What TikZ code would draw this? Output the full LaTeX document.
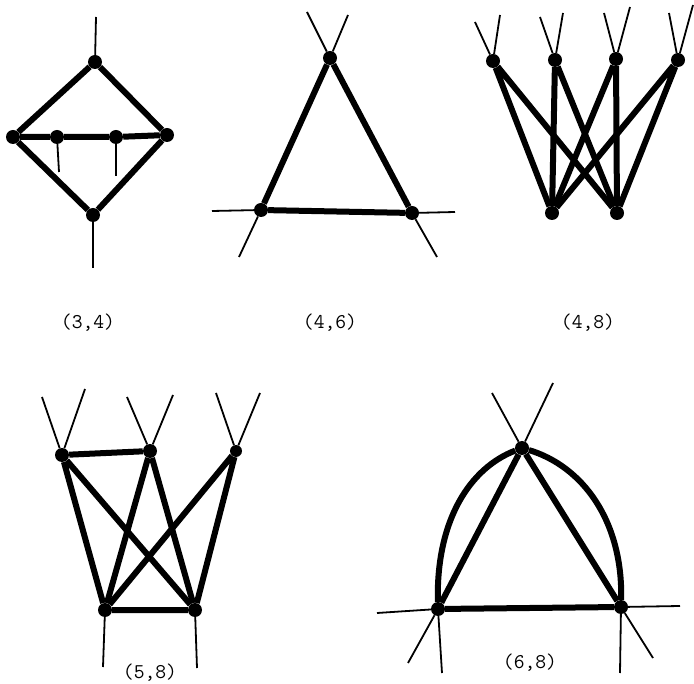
\documentclass[tikz,border=0pt]{standalone}
\usetikzlibrary{calc}
\tikzset{
  vtx/.style={circle,fill=black,inner sep=0pt,minimum size=14pt},
  bond/.style={line width=6pt},
  leg/.style={line width=1.8pt},
  lbl/.style={font=\fontsize{21}{24}\selectfont\ttfamily}
}

\begin{document}
\begin{tikzpicture}[x=1pt,y=-1pt]
  \useasboundingbox (0,0) rectangle (694,684);
  % (3,4)
  \node[vtx] (a1) at (95,62) {};
  \node[vtx] (a2) at (13,137) {};
  \node[vtx] (a3) at (167,135) {};
  \node[vtx] (a4) at (93,215) {};
  \node[vtx] (a5) at (57,137) {};
  \node[vtx] (a6) at (116,137) {};
  \draw[bond] (a1) -- (a2) (a1) -- (a3) (a2) -- (a4) (a3) -- (a4);
  \draw[bond] (a2) -- (a5) -- (a6) -- (a3);
  \node[lbl] (l34) at (88,323) {(3,4)};
  % (4,6)
  \node[vtx] (b1) at (330,58) {};
  \node[vtx] (b2) at (261,210) {};
  \node[vtx] (b3) at (412,213) {};
  \draw[bond] (b1) -- (b2) -- (b3) -- (b1);
  \node[lbl] (l46) at (330,323) {(4,6)};
  % (4,8)
  \node[vtx] (c1) at (493,61) {};
  \node[vtx] (c2) at (555,60) {};
  \node[vtx] (c3) at (616,59) {};
  \node[vtx] (c4) at (678,60) {};
  \node[vtx] (d1) at (552,213) {};
  \node[vtx] (d2) at (617,213) {};
  \foreach \t in {c1,c2,c3,c4}
    \draw[bond] (\t) -- (d1) (\t) -- (d2);
  \node[lbl] (l48) at (588,323) {(4,8)};
  % (5,8)
  \node[vtx] (e1) at (62,455) {};
  \node[vtx] (e2) at (150,451) {};
  \node[vtx,minimum size=12pt] (e3) at (236,451) {};
  \node[vtx] (f1) at (105,610) {};
  \node[vtx] (f2) at (195,610) {};
  \draw[bond] (e1) -- (e2) (f1) -- (f2);
  \foreach \t in {e1,e2,e3}
    \draw[bond] (\t) -- (f1) (\t) -- (f2);
  \node[lbl] (l58) at (150,673) {(5,8)};
  % (6,8)
  \node[vtx] (g1) at (522,448) {};
  \node[vtx] (g2) at (438,609) {};
  \node[vtx] (g3) at (621,607) {};
  \draw[bond] (g1) -- (g2) -- (g3) -- (g1);
  \draw[bond] (g2) .. controls (436,520) and (470,468) .. (g1);
  \draw[bond] (g3) .. controls (623,520) and (582,466) .. (g1);
  \node[lbl] (l68) at (530,663) {(6,8)};
  % external legs
  \foreach \v/\e/\x/\y in {a1/u/96/17, a4/d/93/268, a5/d/59/172, a6/d/116/176,
      b1/l/307/12, b1/r/348/15, b2/l/212/211, b2/d/239/257, b3/r/455/212, b3/d/437/257,
      c1/l/475/22, c1/r/500/15, c2/l/540/17, c2/r/563/13,
      c3/l/604/13, c3/r/630/7, c4/l/669/13, c4/r/693/5,
      e1/l/42/397, e1/r/85/389, e2/l/127/397, e2/r/173/395,
      e3/l/216/393, e3/r/260/393, f1/d/103/667, f2/d/197/668,
      g1/l/492/393, g1/r/553/383, g2/l/377/613, g2/s/408/663, g2/d/442/673,
      g3/r/680/606, g3/s/653/658, g3/d/620/673} {
    \coordinate (\v\e) at (\x,\y);
    \draw[leg] (\v) -- (\v\e);
  }
\end{tikzpicture}
\end{document}
